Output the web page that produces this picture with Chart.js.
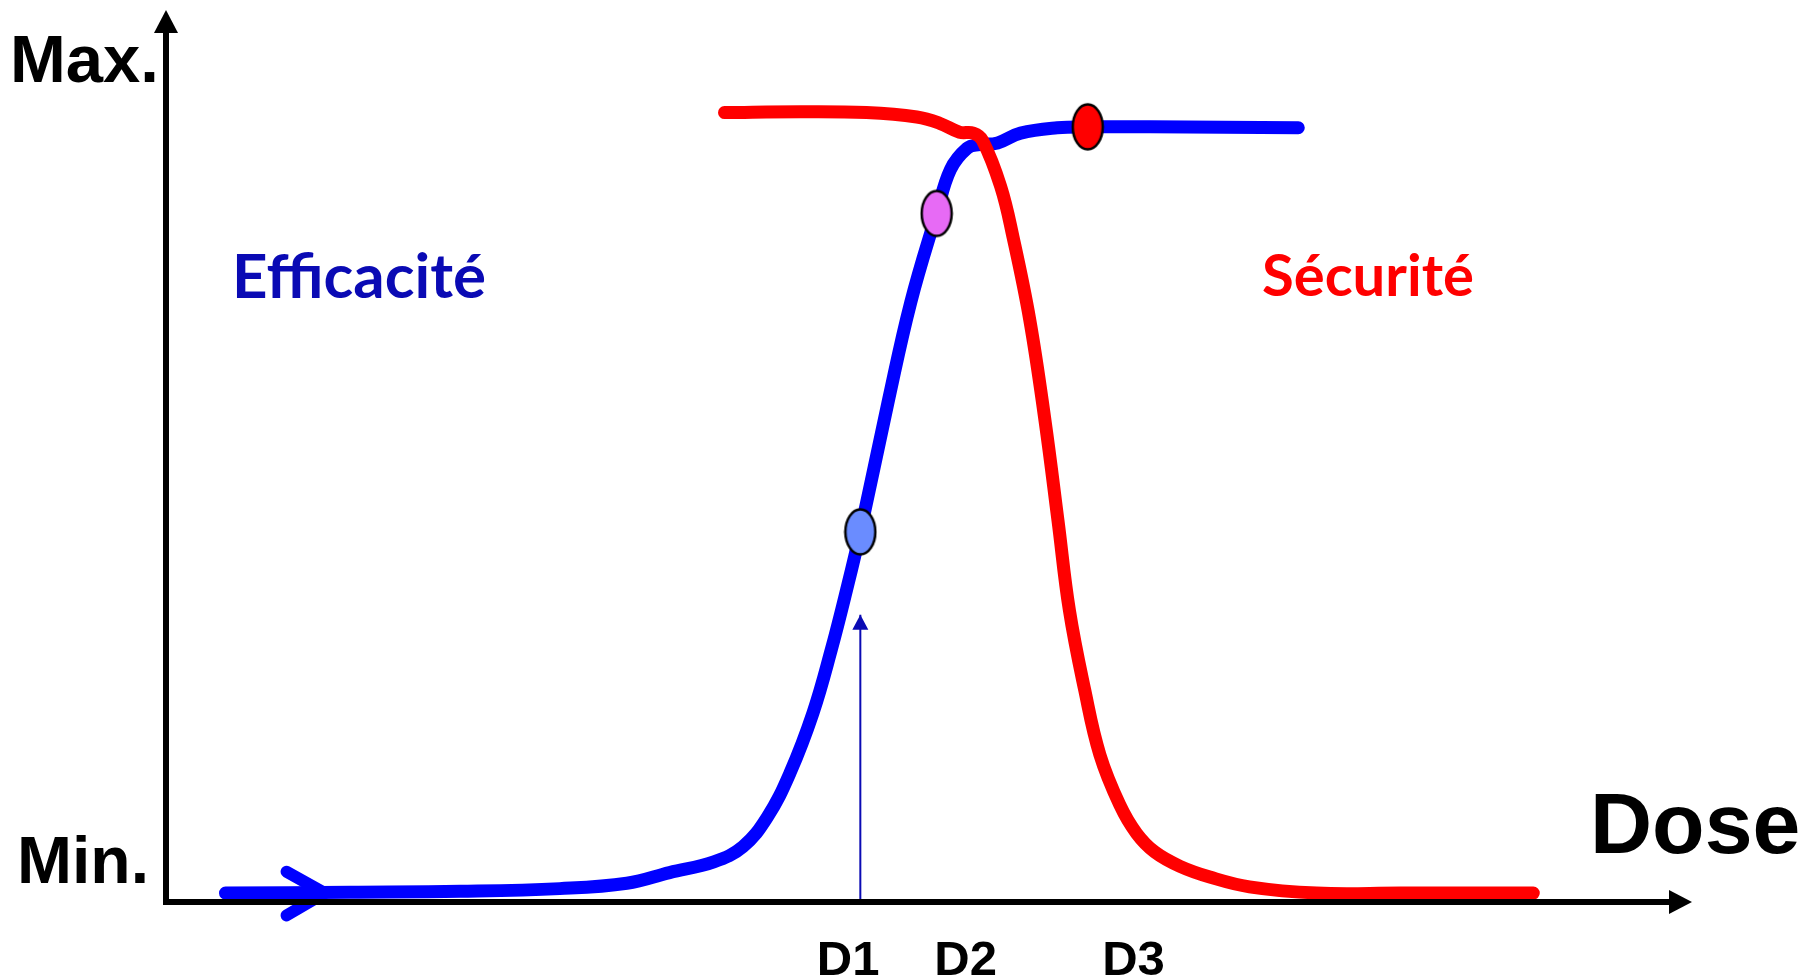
<!DOCTYPE html>
<html>
<head>
<meta charset="utf-8">
<title>Efficacité / Sécurité - Dose</title>
<script src="https://cdn.jsdelivr.net/npm/chart.js@4/dist/chart.umd.min.js"></script>
<style>
  html, body { margin: 0; padding: 0; background: #fff; }
  #wrap { width: 1805px; height: 978px; }
</style>
</head>
<body>
<div id="wrap"><canvas id="chart" width="1805" height="978"></canvas></div>
<script>
// dose in arbitrary units (0..100), response 0 = Min., 100 = Max.
const efficacyDose  = [3.9, 12.1, 19.3, 25.8, 30.2, 33.0, 35.9, 37.8, 39.4, 40.9, 42.4, 43.6, 44.6, 45.5, 47.3, 48.8, 50.5, 51.4, 52.5, 53.3, 54.5, 56.0, 58.4, 60.4, 64.5, 74.2];
const efficacyValue = [1.0, 1.1, 1.2, 1.5, 2.1, 3.3, 4.5, 6.2, 9.5, 14.5, 21.2, 28.3, 35.0, 41.5, 55.9, 67.2, 77.2, 82.1, 84.5, 84.9, 85.1, 86.2, 86.8, 86.9, 86.9, 86.8];

const safetyDose  = [36.6, 41.6, 45.9, 49.2, 50.7, 52.0, 52.9, 53.5, 54.7, 55.5, 56.6, 57.6, 58.45, 59.2, 60.2, 61.2, 62.5, 63.6, 64.8, 66.45, 68.4, 71.0, 75.4, 80.9, 89.6];
const safetyValue = [88.5, 88.6, 88.5, 88.0, 87.3, 86.3, 86.2, 85.4, 80.2, 74.6, 65.3, 54.0, 42.8, 32.7, 23.8, 16.5, 10.9, 7.7, 5.6, 4.0, 2.8, 1.7, 1.0, 1.0, 1.0];

const markerDose   = [45.5, 50.5, 60.4];
const markerValue  = [41.5, 77.2, 86.9];
const markerColors = ['#6a8cff', '#e76af5', '#ff0000'];

const doseLabels   = ['D1', 'D2', 'D3'];
const doseLabelPos = [44.7, 52.4, 63.4];

// little chevron on the start of the efficacy curve
const chevronDose  = [7.9, 10.4, 7.9];
const chevronValue = [3.4, 1.0, -1.5];

// thin arrow pointing up from D1
const d1ArrowDose  = [45.5, 45.5];
const d1ArrowValue = [0, 32.2];

const pts = (xs, ys) => xs.map((x, i) => ({ x: x, y: ys[i] }));

function ellipseMarker(color) {
    let c = document.createElement('canvas');
    c.width = 34;
    c.height = 50;
    let g = c.getContext('2d');
    g.beginPath();
    g.ellipse(17, 25, 15, 22.5, 0, 0, Math.PI * 2);
    g.fillStyle = color;
    g.fill();
    g.lineWidth = 2.5;
    g.strokeStyle = '#000';
    g.stroke();
    return c;
}

function arrowHead(ctx, tipX, tipY, dir, len, half) {
    ctx.beginPath();
    if (dir == 'up') {
        ctx.moveTo(tipX, tipY);
        ctx.lineTo(tipX - half, tipY + len);
        ctx.lineTo(tipX + half, tipY + len);
    } else {
        ctx.moveTo(tipX, tipY);
        ctx.lineTo(tipX - len, tipY - half);
        ctx.lineTo(tipX - len, tipY + half);
    }
    ctx.closePath();
    ctx.fill();
}

function fitText(ctx, text, weight, family, width) {
    ctx.font = `${weight} 100px ${family}`;
    let size = 100 * width / ctx.measureText(text).width;
    ctx.font = `${weight} ${size}px ${family}`;
}

const decor = {
    id: 'decor',
    afterDatasetsDraw(chart) {
        const ctx = chart.ctx;
        const a = chart.chartArea;
        const xs = chart.scales.x;
        const ys = chart.scales.y;
        ctx.save();

        // axes
        ctx.strokeStyle = '#000';
        ctx.fillStyle = '#000';
        ctx.lineWidth = 6;
        ctx.lineCap = 'butt';
        ctx.beginPath();
        ctx.moveTo(a.left, a.top + 20);
        ctx.lineTo(a.left, a.bottom + 3);
        ctx.moveTo(a.left - 3, a.bottom);
        ctx.lineTo(a.right - 20, a.bottom);
        ctx.stroke();
        arrowHead(ctx, a.left, a.top, 'up', 23, 12);
        arrowHead(ctx, a.right, a.bottom, 'right', 23, 12);

        // head of the D1 arrow
        ctx.fillStyle = '#0a0ab4';
        arrowHead(ctx, xs.getPixelForValue(d1ArrowDose[1]), ys.getPixelForValue(d1ArrowValue[1]), 'up', 15, 8);

        // dose labels
        ctx.fillStyle = '#000';
        ctx.textAlign = 'center';
        ctx.textBaseline = 'alphabetic';
        ctx.font = 'bold 49px "Liberation Sans", Arial, sans-serif';
        doseLabels.forEach((t, i) => ctx.fillText(t, xs.getPixelForValue(doseLabelPos[i]), a.bottom + 73));

        // axis titles
        ctx.textAlign = 'left';
        ctx.font = 'bold 67px "Liberation Sans", Arial, sans-serif';
        ctx.fillText('Max.', 10, 82);
        ctx.font = 'bold 66px "Liberation Sans", Arial, sans-serif';
        ctx.fillText('Min.', 17, 883);
        ctx.font = 'bold 86px "Liberation Sans", Arial, sans-serif';
        ctx.fillText('Dose', 1590, 853);

        // curve names
        ctx.fillStyle = '#0a0ab4';
        fitText(ctx, 'Efficacité', 'bold', '"Comic Sans MS", Lato, sans-serif', 254);
        ctx.fillText('Efficacité', 232, 298);
        ctx.fillStyle = '#ff0000';
        fitText(ctx, 'Sécurité', 'bold', '"Comic Sans MS", Lato, sans-serif', 212);
        ctx.fillText('Sécurité', 1262, 296);

        ctx.restore();
    }
};

const curveStyle = {
    showLine: true,
    borderWidth: 13,
    borderCapStyle: 'round',
    borderJoinStyle: 'round',
    tension: 0.4,
    pointRadius: 0
};

new Chart(document.getElementById('chart').getContext('2d'), {
    type: 'scatter',
    data: {
        datasets: [
            {
                label: 'Doses',
                data: pts(markerDose, markerValue),
                pointStyle: markerColors.map(c => ellipseMarker(c)),
                order: 0
            },
            Object.assign({}, curveStyle, {
                label: 'Sécurité',
                data: pts(safetyDose, safetyValue),
                borderColor: '#ff0000',
                order: 1
            }),
            Object.assign({}, curveStyle, {
                label: 'Efficacité',
                data: pts(efficacyDose, efficacyValue),
                borderColor: '#0000ff',
                order: 2
            }),
            Object.assign({}, curveStyle, {
                label: 'chevron',
                data: pts(chevronDose, chevronValue),
                borderColor: '#0000ff',
                borderWidth: 12,
                tension: 0,
                clip: false,
                order: 2
            }),
            {
                label: 'D1',
                data: pts(d1ArrowDose, d1ArrowValue),
                showLine: true,
                borderColor: '#0a0ab4',
                borderWidth: 2,
                tension: 0,
                pointRadius: 0,
                order: 3
            }
        ]
    },
    options: {
        responsive: false,
        animation: false,
        layout: { padding: { left: 166, right: 113, top: 10, bottom: 76 } },
        plugins: {
            legend: { display: false },
            tooltip: { enabled: false }
        },
        scales: {
            x: { type: 'linear', min: 0, max: 100, display: false },
            y: { type: 'linear', min: 0, max: 100, display: false }
        }
    },
    plugins: [decor]
});
</script>
</body>
</html>
